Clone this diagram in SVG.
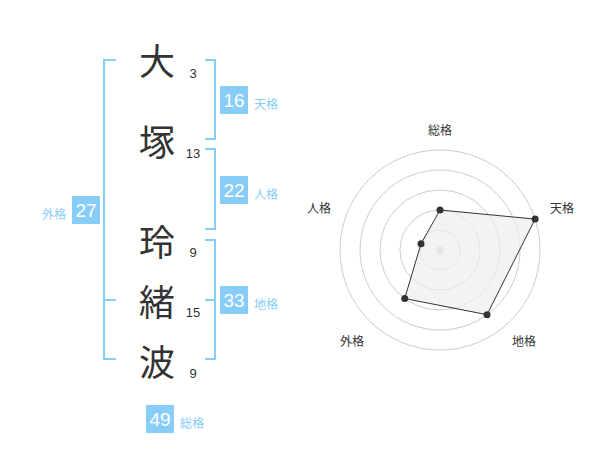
<svg xmlns="http://www.w3.org/2000/svg" width="600" height="470" viewBox="0 0 600 470">
<style>
.ch{font-family:"Noto Sans CJK JP","Noto Sans CJK SC",sans-serif;font-size:36px;fill:#333;text-anchor:middle}
.st{font-family:"Liberation Sans",Arial,sans-serif;font-size:13px;fill:#333;text-anchor:middle}
.br{fill:none;stroke:#88ccf8;stroke-width:2}
.box{fill:#88ccf8}
.bn{font-family:"Liberation Sans",Arial,sans-serif;font-size:19px;fill:#fff;text-anchor:middle}
.bl{font-family:"Noto Sans CJK JP","Noto Sans CJK SC",sans-serif;font-size:12px;fill:#88ccf8}
.rl{font-family:"Noto Sans CJK JP","Noto Sans CJK SC",sans-serif;font-size:12px;fill:#333;text-anchor:middle}
.ring{fill:none;stroke:#ccc;stroke-width:1}
.dot{fill:#333}
</style>
<rect width="600" height="470" fill="#fff"/>
<g id="chars">
<text class="ch" x="157" y="75">大</text>
<text class="ch" x="157" y="156">塚</text>
<text class="ch" x="157" y="256">玲</text>
<text class="ch" x="157" y="316">緒</text>
<text class="ch" x="157" y="376">波</text>
<text class="st" x="193" y="77.5">3</text>
<text class="st" x="193" y="157.5">13</text>
<text class="st" x="193" y="257">9</text>
<text class="st" x="193" y="317">15</text>
<text class="st" x="193" y="377.5">9</text>
</g>
<g id="connectors">
<path class="br" d="M116,60 H104 V359 H116 M104,300 H116"/>
<path class="br" d="M205,60 H215 V139 H205"/>
<path class="br" d="M205,149 H215 V229 H205"/>
<path class="br" d="M205,240 H215 V359 H205 M215,300 H205"/>
</g>
<g id="tenkaku">
<rect class="box" x="220" y="86" width="28" height="28"/>
<text class="bn" x="234" y="107">16</text>
<text class="bl" x="254" y="108.5">天格</text>
</g>
<g id="jinkaku">
<rect class="box" x="220" y="176" width="28" height="28"/>
<text class="bn" x="234" y="197">22</text>
<text class="bl" x="254" y="198.5">人格</text>
</g>
<g id="chikaku">
<rect class="box" x="220" y="286" width="28" height="28"/>
<text class="bn" x="234" y="307">33</text>
<text class="bl" x="254" y="308.5">地格</text>
</g>
<g id="gaikaku">
<rect class="box" x="72" y="196" width="28" height="28"/>
<text class="bn" x="86" y="217">27</text>
<text class="bl" x="66" y="218.5" text-anchor="end">外格</text>
</g>
<g id="soukaku">
<rect class="box" x="146" y="405" width="28" height="28"/>
<text class="bn" x="160" y="426">49</text>
<text class="bl" x="180" y="427.5">総格</text>
</g>
<g id="radar">
<circle class="ring" cx="440" cy="250" r="20"/>
<circle class="ring" cx="440" cy="250" r="40"/>
<circle class="ring" cx="440" cy="250" r="60"/>
<circle class="ring" cx="440" cy="250" r="80"/>
<circle class="ring" cx="440" cy="250" r="100"/>
<circle cx="440" cy="250" r="3.5" fill="#ccc"/>
<polygon points="440,210 535.1,219.1 487,314.7 404.7,298.5 421,243.8" fill="#eee" fill-opacity="0.7" stroke="#333" stroke-width="1"/>
<circle class="dot" cx="440" cy="210" r="3.5"/>
<circle class="dot" cx="535.1" cy="219.1" r="3.5"/>
<circle class="dot" cx="487" cy="314.7" r="3.5"/>
<circle class="dot" cx="404.7" cy="298.5" r="3.5"/>
<circle class="dot" cx="421" cy="243.8" r="3.5"/>
<text class="rl" x="440" y="134.5">総格</text>
<text class="rl" x="562" y="212.5">天格</text>
<text class="rl" x="524" y="346">地格</text>
<text class="rl" x="352" y="346">外格</text>
<text class="rl" x="319" y="212.5">人格</text>
</g>
</svg>
